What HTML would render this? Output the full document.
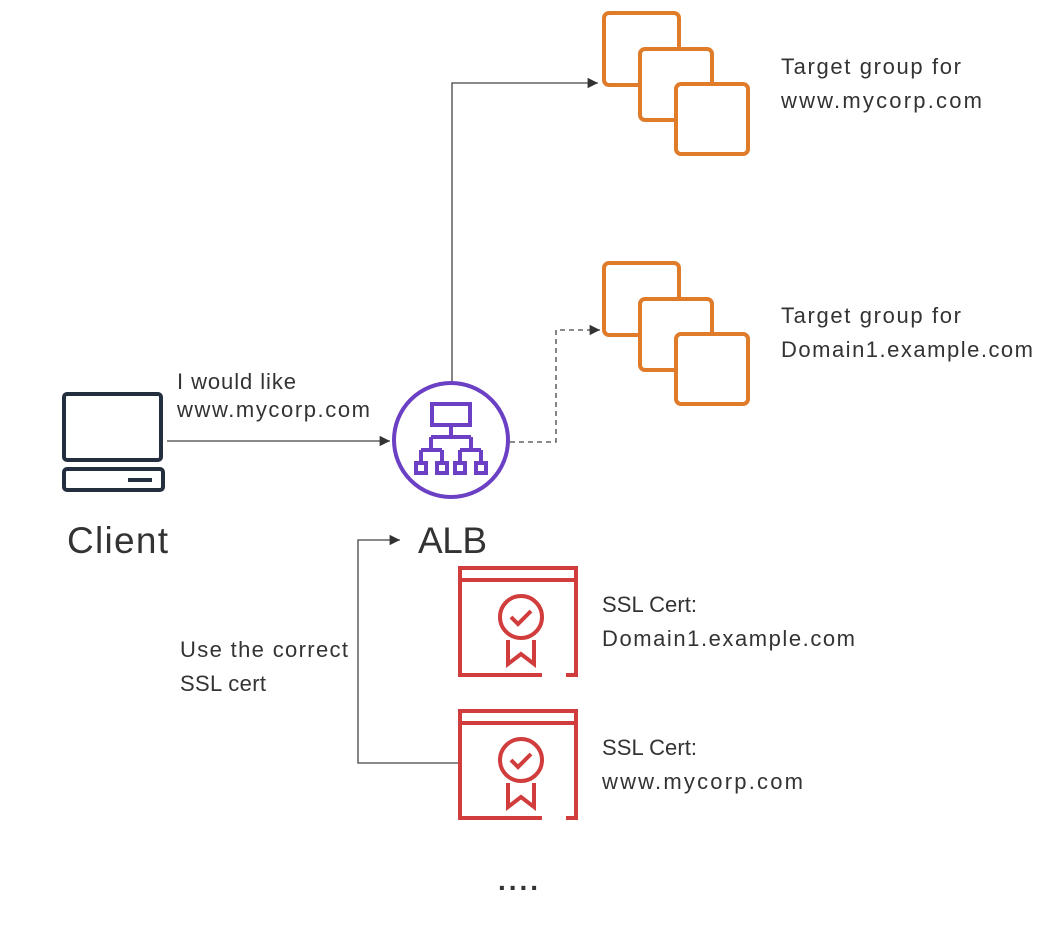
<!DOCTYPE html>
<html><head><style>
body{margin:0;background:#fff}
svg text{font-family:"Liberation Sans",sans-serif;fill:#333}
</style></head><body>
<svg width="1043" height="924" viewBox="0 0 1043 924" xmlns="http://www.w3.org/2000/svg">
<defs><marker id="a" viewBox="0 0 10 10" refX="10" refY="5" markerWidth="8" markerHeight="8" orient="auto"><path d="M0,0L10,5L0,10z" fill="#333"/></marker></defs>
<g fill="none" stroke="#444" stroke-width="1.3">
<path d="M452,383V83H598" marker-end="url(#a)"/>
<path d="M510,442H556V330H600" stroke-dasharray="5,4" marker-end="url(#a)"/>
<path d="M167,441H390" marker-end="url(#a)"/>
<path d="M458,763H358V540H400" marker-end="url(#a)"/>
</g>
<g stroke="#e07b29" stroke-width="4" fill="#fff">
<rect x="604" y="13" width="75" height="72" rx="5"/>
<rect x="640" y="49" width="72" height="71" rx="5"/>
<rect x="676" y="84" width="72" height="70" rx="5"/>
<rect x="604" y="263" width="75" height="72" rx="5"/>
<rect x="640" y="299" width="72" height="71" rx="5"/>
<rect x="676" y="334" width="72" height="70" rx="5"/>
</g>
<g fill="none" stroke="#232f3e" stroke-width="4">
<rect x="64" y="394" width="97" height="66" rx="3"/>
<rect x="64" y="469" width="99" height="21" rx="3"/>
<line x1="128" y1="480" x2="152" y2="480"/>
</g>
<g fill="none" stroke="#6b40c4" stroke-width="4">
<circle cx="451" cy="440" r="57"/>
<rect x="432" y="404" width="38" height="21"/>
<path d="M451,425V437M431,437H471M431,437V450M471,437V450M421,450H442M460,450H481M421,450V463M442,450V463M460,450V463M481,450V463"/>
<rect x="416" y="463" width="10" height="10"/><rect x="437" y="463" width="10" height="10"/>
<rect x="455" y="463" width="10" height="10"/><rect x="476" y="463" width="10" height="10"/>
</g>
<g fill="none" stroke="#d13c3c" stroke-width="4">
<path d="M542,675H460V568H576V675H566M460,580H576"/>
<circle cx="521" cy="617" r="21"/><path d="M511,617l7,7l13,-13"/>
<path d="M508,640V664L521,654L534,664V640"/>
<path d="M542,818H460V711H576V818H566M460,723H576"/>
<circle cx="521" cy="760" r="21"/><path d="M511,760l7,7l13,-13"/>
<path d="M508,783V807L521,797L534,807V783"/>
</g>
<g font-size="22" lengthAdjust="spacing">
<text x="781" y="74" textLength="180">Target group for</text>
<text x="781" y="108" textLength="201">www.mycorp.com</text>
<text x="781" y="323" textLength="180">Target group for</text>
<text x="781" y="357" textLength="252">Domain1.example.com</text>
<text x="177" y="389" textLength="119">I would like</text>
<text x="177" y="417" textLength="193">www.mycorp.com</text>
<text x="602" y="612" textLength="95">SSL Cert:</text>
<text x="602" y="646" textLength="253">Domain1.example.com</text>
<text x="602" y="789" textLength="201" y2="0">www.mycorp.com</text>
<text x="602" y="755" textLength="95">SSL Cert:</text>
<text x="180" y="657" textLength="168">Use the correct</text>
<text x="180" y="691" textLength="86">SSL cert</text>
</g>
<text x="498" y="890" font-size="28" textLength="40" font-weight="bold">....</text>
<text x="67" y="553" font-size="37" textLength="101">Client</text>
<text x="418" y="553" font-size="37" textLength="69">ALB</text>
</svg>
</body></html>
